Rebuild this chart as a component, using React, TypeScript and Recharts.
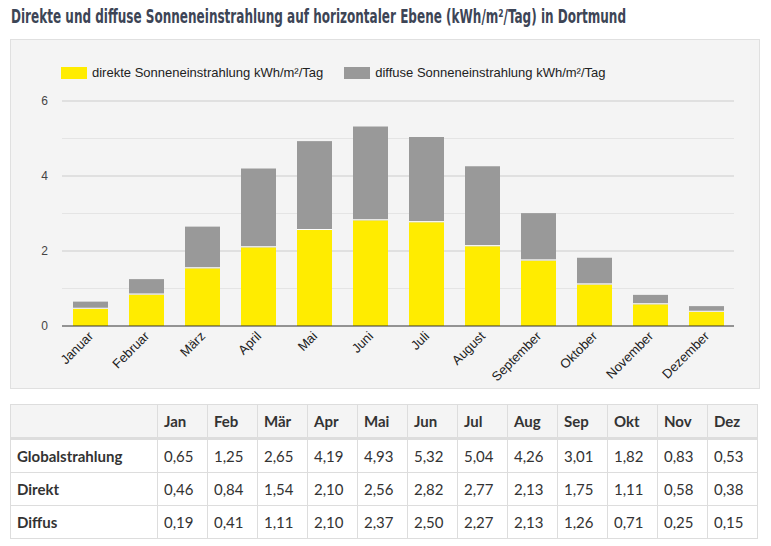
import React from 'react'
import { BarChart, Bar, XAxis, YAxis, CartesianGrid } from 'recharts'

const months = ['Januar', 'Februar', 'März', 'April', 'Mai', 'Juni', 'Juli', 'August', 'September', 'Oktober', 'November', 'Dezember']
const shortMonths = ['Jan', 'Feb', 'Mär', 'Apr', 'Mai', 'Jun', 'Jul', 'Aug', 'Sep', 'Okt', 'Nov', 'Dez']
const globalValues = [0.65, 1.25, 2.65, 4.19, 4.93, 5.32, 5.04, 4.26, 3.01, 1.82, 0.83, 0.53]
const directValues = [0.46, 0.84, 1.54, 2.1, 2.56, 2.82, 2.77, 2.13, 1.75, 1.11, 0.58, 0.38]
const diffuseValues = [0.19, 0.41, 1.11, 2.1, 2.37, 2.5, 2.27, 2.13, 1.26, 0.71, 0.25, 0.15]
const yTicks = [0, 1, 2, 3, 4, 5, 6]

const YELLOW = '#ffec00'
const GRAY = '#999999'

const chartData = months.map((m, i) => ({ month: m, direct: directValues[i], diffuse: diffuseValues[i] }))

const fmt = (v: number) => v.toFixed(2).replace('.', ',')

function DiffuseShape(props: any) {
  const { x, y, width, height } = props
  if (!height || height <= 0) return null
  return (
    <g>
      <rect x={x} y={y} width={width} height={height} fill={GRAY} />
      <rect x={x} y={y + height - 1} width={width} height={1} fill="#ffffff" />
    </g>
  )
}

function MonthTick(props: any) {
  const { x, y, payload } = props
  const tx = x + 4
  const ty = y + 3
  return (
    <text
      x={tx}
      y={ty}
      textAnchor="end"
      fontSize={13}
      fill="#222"
      fontFamily="Arial, 'Liberation Sans', sans-serif"
      transform={`rotate(-45 ${tx} ${ty})`}
    >
      {payload.value}
    </text>
  )
}

function LegendBox() {
  const items = [
    { label: 'direkte Sonneneinstrahlung kWh/m²/Tag', color: YELLOW },
    { label: 'diffuse Sonneneinstrahlung kWh/m²/Tag', color: GRAY },
  ]
  return (
    <div
      style={{
        position: 'absolute',
        left: 50,
        top: 25,
        display: 'flex',
        fontFamily: "Arial, 'Liberation Sans', sans-serif",
        fontSize: 13,
        lineHeight: '16px',
        color: '#222',
      }}
    >
      {items.map((it) => (
        <div key={it.label} style={{ display: 'flex', alignItems: 'center', marginRight: 21 }}>
          <span style={{ display: 'inline-block', width: 26, height: 12, background: it.color, marginRight: 5 }} />
          <span>{it.label}</span>
        </div>
      ))}
    </div>
  )
}

const cell: React.CSSProperties = {
  border: '1px solid #dddddd',
  padding: '0 6px',
  textAlign: 'left',
  height: 32,
}

export default function App() {
  return (
    <div style={{ position: 'absolute', left: 0, top: 0, width: 771, height: 546, background: '#fff' }}>
      <svg style={{ position: 'absolute', left: 0, top: 0 }} width={771} height={36}>
        <text
          x={11}
          y={23}
          textLength={615}
          lengthAdjust="spacingAndGlyphs"
          fontFamily="'DejaVu Sans Condensed', 'Liberation Sans Narrow', sans-serif"
          fontWeight={700}
          fontSize={19}
          fill="#3d4556"
        >
          Direkte und diffuse Sonneneinstrahlung auf horizontaler Ebene (kWh/m²/Tag) in Dortmund
        </text>
      </svg>
      <div
        style={{
          position: 'absolute',
          left: 10,
          top: 39,
          width: 748,
          height: 348,
          background: '#f4f4f4',
          border: '1px solid #e0e0e0',
        }}
      >
        <LegendBox />
        <BarChart width={748} height={348} data={chartData} margin={{ top: 61, right: 25, left: 11, bottom: 0 }}>
          <CartesianGrid vertical={false} horizontalValues={[1, 3, 5]} stroke="#e4e4e4" />
          <CartesianGrid vertical={false} horizontalValues={[2, 4, 6]} stroke="#cccccc" />
          <XAxis
            dataKey="month"
            interval={0}
            height={62}
            tickLine={false}
            axisLine={{ stroke: '#333333' }}
            tick={<MonthTick />}
          />
          <YAxis
            domain={[0, 6]}
            ticks={yTicks}
            width={40}
            axisLine={false}
            tickLine={false}
            tickSize={0}
            tickMargin={14}
            tickFormatter={(v: number) => (v % 2 === 0 ? String(v) : '')}
            tick={{ fontSize: 12, fill: '#444', fontFamily: "Arial, 'Liberation Sans', sans-serif" }}
          />
          <Bar dataKey="direct" stackId="a" fill={YELLOW} barSize={35} isAnimationActive={false} />
          <Bar dataKey="diffuse" stackId="a" fill={GRAY} barSize={35} shape={<DiffuseShape />} isAnimationActive={false} />
        </BarChart>
      </div>
      <table
        style={{
          position: 'absolute',
          left: 10,
          top: 404,
          borderCollapse: 'collapse',
          fontFamily: "Lato, 'Open Sans', sans-serif",
          fontSize: 15,
          color: '#333',
        }}
      >
        <thead>
          <tr style={{ background: '#f4f4f4' }}>
            <th style={{ ...cell, width: 134, borderBottom: '3px solid #dddddd' }}></th>
            {shortMonths.map((m) => (
              <th key={m} style={{ ...cell, width: 37, fontWeight: 700, borderBottom: '3px solid #dddddd' }}>{m}</th>
            ))}
          </tr>
        </thead>
        <tbody>
          {[
            { label: 'Globalstrahlung', values: globalValues },
            { label: 'Direkt', values: directValues },
            { label: 'Diffus', values: diffuseValues },
          ].map((row) => (
            <tr key={row.label}>
              <td style={{ ...cell, fontWeight: 700 }}>{row.label}</td>
              {row.values.map((v, i) => (
                <td key={i} style={cell}>{fmt(v)}</td>
              ))}
            </tr>
          ))}
        </tbody>
      </table>
    </div>
  )
}
